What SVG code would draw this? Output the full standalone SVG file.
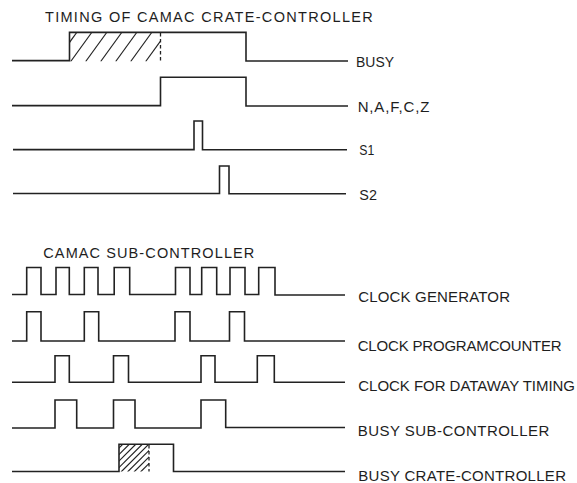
<svg xmlns="http://www.w3.org/2000/svg" width="577" height="483" viewBox="0 0 577 483">
  <defs>
    <style>
      .sig { fill: none; stroke: #222; stroke-width: 1.6; stroke-linejoin: miter; stroke-linecap: butt; }
      .hatch { fill: none; stroke: #222; stroke-width: 1.2; }
      .dash { fill: none; stroke: #222; stroke-width: 1.3; stroke-dasharray: 3.5 2.5; }
      .lbl { font-family: "Liberation Sans", Arial, sans-serif; font-size: 15px; fill: #1e1e1e; }
      .ttl { font-family: "Liberation Sans", Arial, sans-serif; font-size: 14.5px; fill: #1e1e1e; }
    </style>
    <clipPath id="clipTop"><rect x="69.5" y="32.5" width="90.5" height="29"/></clipPath>
    <clipPath id="clipBot"><rect x="119" y="444.3" width="30" height="27.2"/></clipPath>
  </defs>
  <rect width="577" height="483" fill="#fff"/>

  <text id="title-crate" class="ttl" x="45" y="22.3" textLength="327.7" lengthAdjust="spacing">TIMING OF CAMAC CRATE-CONTROLLER</text>

  <g id="busy">
    <g clip-path="url(#clipTop)" class="hatch">
      <line x1="55.7" y1="61.5" x2="76.7" y2="32.5"/>
      <line x1="70.7" y1="61.5" x2="91.7" y2="32.5"/>
      <line x1="85.7" y1="61.5" x2="106.7" y2="32.5"/>
      <line x1="100.7" y1="61.5" x2="121.7" y2="32.5"/>
      <line x1="115.7" y1="61.5" x2="136.7" y2="32.5"/>
      <line x1="130.7" y1="61.5" x2="151.7" y2="32.5"/>
      <line x1="145.7" y1="61.5" x2="166.7" y2="32.5"/>
    </g>
    <line class="dash" x1="160.5" y1="33" x2="160.5" y2="61.5"/>
    <path class="sig" d="M12,60.6 H69.5 V32.4 H246 V61 H348"/>
    <text class="lbl" x="356" y="66.5" textLength="38" lengthAdjust="spacingAndGlyphs">BUSY</text>
  </g>

  <g id="nafcz">
    <path class="sig" d="M12,105.6 H160.5 V77.3 H246 V106 H348"/>
    <text class="lbl" x="357.7" y="111.5" textLength="71.6" lengthAdjust="spacing">N,A,F,C,Z</text>
  </g>

  <g id="s1">
    <path class="sig" d="M13,149.6 H194 V121 H202.5 V149.8 H347"/>
    <text class="lbl" x="359.3" y="155" textLength="15" lengthAdjust="spacingAndGlyphs">S1</text>
  </g>

  <g id="s2">
    <path class="sig" d="M13,193.5 H219.5 V166 H229 V193.8 H346"/>
    <text class="lbl" x="359.3" y="200" textLength="17.6" lengthAdjust="spacingAndGlyphs">S2</text>
  </g>

  <text id="title-sub" class="ttl" x="43.3" y="258.3" textLength="211" lengthAdjust="spacing">CAMAC SUB-CONTROLLER</text>

  <g id="clock-generator">
    <path class="sig" d="M12,294.5 H26.7 V267.5 H41 V294.5 H56 V267.5 H69.3 V294.5 H84.3 V267.5 H98 V294.5 H114.2 V267.5 H129.7 V294.5 H175.5 V267.5 H190 V294.5 H201.7 V267.5 H216.7 V294.5 H230 V267.5 H245 V294.5 H258.7 V267.5 H275 V295 H345"/>
    <text class="lbl" x="358.3" y="302" textLength="151.7" lengthAdjust="spacing">CLOCK GENERATOR</text>
  </g>

  <g id="clock-programcounter">
    <path class="sig" d="M12,341 H26.7 V311.7 H41 V341 H84.3 V311.7 H98.7 V341 H175 V311.7 H190 V341 H229.5 V311.7 H244.5 V341 H345"/>
    <text class="lbl" x="357.7" y="351" textLength="204" lengthAdjust="spacing">CLOCK PROGRAMCOUNTER</text>
  </g>

  <g id="clock-dataway">
    <path class="sig" d="M12,382.3 H55 V355.8 H69.3 V382.3 H113.5 V355.8 H128.5 V382.3 H201 V355.8 H215 V382.3 H257.3 V355.8 H274.3 V382.3 H345"/>
    <text class="lbl" x="358.3" y="391" textLength="216.7" lengthAdjust="spacing">CLOCK FOR DATAWAY TIMING</text>
  </g>

  <g id="busy-sub">
    <path class="sig" d="M12,428 H55 V400 H76.7 V428 H113.5 V400 H135 V428 H201 V400 H225.7 V427.5 H345"/>
    <text class="lbl" x="357.7" y="435.5" textLength="191.6" lengthAdjust="spacing">BUSY SUB-CONTROLLER</text>
  </g>

  <g id="busy-crate">
    <g clip-path="url(#clipBot)" class="hatch">
      <line x1="95" y1="472" x2="123" y2="444"/>
      <line x1="101.5" y1="472" x2="129.5" y2="444"/>
      <line x1="108" y1="472" x2="136" y2="444"/>
      <line x1="114.5" y1="472" x2="142.5" y2="444"/>
      <line x1="121" y1="472" x2="149" y2="444"/>
      <line x1="127.5" y1="472" x2="155.5" y2="444"/>
      <line x1="134" y1="472" x2="162" y2="444"/>
      <line x1="140.5" y1="472" x2="168.5" y2="444"/>
    </g>
    <line class="dash" x1="149" y1="445" x2="149" y2="471.5"/>
    <path class="sig" d="M12,471.5 H119 V444.3 H173.5 V471.5 H345"/>
    <text class="lbl" x="358.3" y="480.5" textLength="207.7" lengthAdjust="spacing">BUSY CRATE-CONTROLLER</text>
  </g>
</svg>
